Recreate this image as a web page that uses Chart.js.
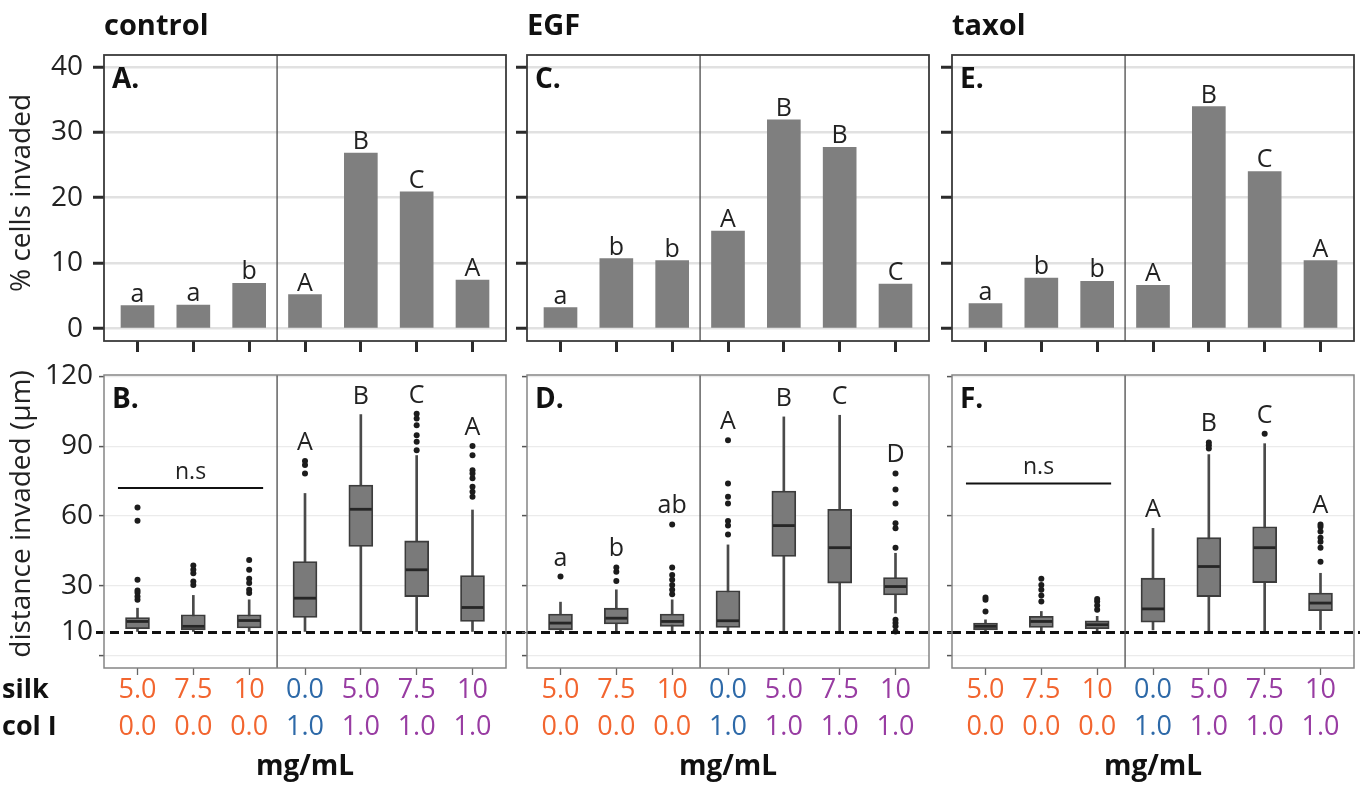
<!DOCTYPE html>
<html>
<head>
<meta charset="utf-8">
<script src="https://cdn.jsdelivr.net/npm/chart.js@4.4.1/dist/chart.umd.min.js"></script>
<style>
  body { margin: 0; background: #fff; }
  #wrap { position: relative; width: 1363px; height: 785px; }
  #wrap canvas { position: absolute; left: 0; top: 0; }
</style>
</head>
<body>
<div id="wrap">
  <canvas id="pctControl" width="1363" height="785"></canvas>
  <canvas id="pctEGF" width="1363" height="785"></canvas>
  <canvas id="pctTaxol" width="1363" height="785"></canvas>
  <canvas id="distControl" width="1363" height="785"></canvas>
  <canvas id="distEGF" width="1363" height="785"></canvas>
  <canvas id="distTaxol" width="1363" height="785"></canvas>
</div>
<script>
// categories (mg/mL)
const silkConc = ['5.0', '7.5', '10', '0.0', '5.0', '7.5', '10'];
const colIConc = ['0.0', '0.0', '0.0', '1.0', '1.0', '1.0', '1.0'];
const conditions = ['control', 'EGF', 'taxol'];

// % cells invaded
const pctTicks = [0, 10, 20, 30, 40];
const pctControl = [3.5, 3.6, 6.9, 5.2, 26.8, 20.9, 7.4];
const pctEGF = [3.2, 10.7, 10.4, 14.9, 31.9, 27.7, 6.8];
const pctTaxol = [3.8, 7.7, 7.2, 6.6, 33.9, 24.0, 10.4];
const pctLettersControl = ['a', 'a', 'b', 'A', 'B', 'C', 'A'];
const pctLettersEGF = ['a', 'b', 'b', 'A', 'B', 'B', 'C'];
const pctLettersTaxol = ['a', 'b', 'b', 'A', 'B', 'C', 'A'];

// distance invaded (um): [whisker low, q1, median, q3, whisker high]
const distTicks = [0, 10, 30, 60, 90, 120];
const distThreshold = 10;
const distControl = [
    [10.4, 11.6, 14.7, 16.4, 20.4],
    [10.4, 11.1, 12.6, 17.6, 25.9],
    [10.4, 11.9, 15.1, 17.6, 24.0],
    [10.4, 16.4, 24.7, 40.4, 69.7],
    [10.4, 46.9, 62.9, 73.3, 103.6],
    [10.4, 25.4, 36.9, 49.3, 86.0],
    [10.4, 14.7, 20.7, 34.4, 62.6],
];
const outControl = [
    [24.0, 25.4, 27.0, 28.0, 32.6, 58.0, 63.7],
    [30.4, 31.9, 35.4, 36.9, 38.7],
    [26.9, 28.3, 31.2, 33.0, 36.9, 41.1],
    [78.3, 81.9, 83.6],
    [],
    [88.3, 91.9, 94.7, 99.0, 101.9, 104.0],
    [68.3, 70.4, 72.6, 76.2, 78.3, 79.7, 86.1, 90.1],
];
const distEGF = [
    [10.6, 11.1, 14.0, 17.9, 23.0],
    [10.6, 13.6, 16.1, 20.4, 28.3],
    [10.6, 12.6, 14.7, 17.9, 24.0],
    [10.6, 12.1, 15.0, 27.9, 47.6],
    [10.4, 42.6, 55.9, 70.7, 102.6],
    [10.4, 31.2, 46.4, 62.9, 103.3],
    [18.3, 26.1, 29.7, 33.6, 44.0],
];
const outEGF = [
    [34.0],
    [32.1, 36.1, 37.9],
    [26.4, 28.3, 30.4, 32.6, 34.7, 37.9, 56.4],
    [52.1, 55.9, 57.9, 65.4, 68.3, 74.0, 92.6],
    [],
    [],
    [10.4, 12.6, 14.0, 15.4, 46.4, 54.7, 56.9, 65.4, 71.4, 78.3],
];
const distTaxol = [
    [10.6, 11.1, 12.6, 14.0, 15.4],
    [10.6, 12.1, 14.7, 16.9, 19.0],
    [10.6, 11.6, 13.3, 15.0, 16.9],
    [11.1, 14.4, 20.1, 33.3, 54.7],
    [10.4, 25.4, 38.3, 50.7, 86.4],
    [10.4, 31.4, 46.4, 55.4, 91.1],
    [11.1, 19.3, 22.6, 26.9, 35.4],
];
const outTaxol = [
    [19.0, 24.0, 25.0],
    [23.3, 25.9, 28.3, 30.4, 33.0],
    [19.7, 21.6, 23.3, 24.4],
    [],
    [89.0, 90.4, 91.6],
    [95.4],
    [40.4, 46.4, 49.0, 50.7, 53.3, 55.4, 56.4],
];
const distLettersControl = ['', '', '', 'A', 'B', 'C', 'A'];
const distLettersEGF = ['a', 'b', 'ab', 'A', 'B', 'C', 'D'];
const distLettersTaxol = ['', '', '', 'A', 'B', 'C', 'A'];
const nsControl = 72;
const nsTaxol = 74;

// ---- layout / style ----
const FONT = '"Open Sans", "Noto Sans", sans-serif';
const INK = '#222';
const W = 1363, H = 785;
const Y_W = 70, X_H = 90;
const COLS = [
    { left: 104, right: 506 },
    { left: 527, right: 929 },
    { left: 952, right: 1354 },
];
const ROW_TOP = { top: 55, bottom: 341 };
const ROW_BOTTOM = { top: 375, bottom: 668 };
const catColors = ['#f2652f', '#f2652f', '#f2652f', '#2d69a8', '#983ca2', '#983ca2', '#983ca2'];

function text(ctx, str, x, y, size, o = {}) {
    ctx.font = `${o.bold ? 'bold ' : ''}${size}px ${FONT}`;
    ctx.fillStyle = o.color || INK;
    ctx.textAlign = o.align || 'left';
    ctx.textBaseline = o.baseline || 'alphabetic';
    ctx.fillText(str, x, y);
}

function line(ctx, x1, y1, x2, y2, color, w) {
    ctx.strokeStyle = color;
    ctx.lineWidth = w;
    ctx.beginPath();
    ctx.moveTo(x1, y1);
    ctx.lineTo(x2, y2);
    ctx.stroke();
}

function makeOptions(area, top, showY) {
    return {
        responsive: false,
        animation: false,
        events: [],
        layout: {
            padding: {
                left: area.left - Y_W,
                top: area.top,
                right: W - area.right,
                bottom: H - area.bottom - X_H,
            },
        },
        plugins: { legend: { display: false }, tooltip: { enabled: false } },
        scales: {
            x: {
                type: 'linear', min: -0.6, max: 6.6, offset: false,
                afterBuildTicks: s => { s.ticks = silkConc.map((_, i) => ({ value: i })); },
                afterFit: s => { s.height = X_H; },
                border: { display: false },
                grid: {
                    offset: false, drawOnChartArea: false, drawTicks: true,
                    tickLength: top ? 11 : 7, tickWidth: top ? 3 : 1.3,
                    tickColor: top ? '#2b2b2b' : '#666',
                },
                ticks: {
                    autoSkip: false, maxRotation: 0, padding: -3,
                    font: { family: FONT, size: 27, lineHeight: 1.37 },
                    color: c => catColors[c.index] || INK,
                    callback: (v, i) => top ? '' : [silkConc[i], colIConc[i]],
                },
            },
            y: {
                min: top ? -1.9 : -5.3,
                max: top ? 41.8 : 120.6,
                afterBuildTicks: s => { s.ticks = (top ? pctTicks : distTicks).map(v => ({ value: v })); },
                afterFit: s => { s.width = Y_W; },
                border: { display: false },
                grid: {
                    color: c => (!top && c.tick && c.tick.value === distThreshold) ? 'rgba(0,0,0,0)' : (top ? '#e1e1e1' : '#ebebeb'),
                    lineWidth: top ? 2.5 : 1.2,
                    drawTicks: true,
                    tickLength: top ? 11 : 5,
                    tickWidth: top ? 3 : 1.5,
                    tickColor: top ? '#2b2b2b' : '#555',
                },
                ticks: {
                    padding: top ? 10 : 6,
                    font: { family: FONT, size: 28 },
                    color: INK,
                    callback: v => !showY ? '' : (!top && v === 0 ? '' : String(v)),
                },
            },
        },
    };
}

function decorPlugin(p) {
    return {
        id: 'decor',
        afterDatasetsDraw(chart) {
            const { ctx, chartArea: a, scales: { x, y } } = chart;
            ctx.save();

            if (p.boxes) {
                // medians
                p.boxes.forEach((b, i) => {
                    const px = x.getPixelForValue(i), py = y.getPixelForValue(b[2]);
                    line(ctx, px - 11, py, px + 11, py, '#262626', 2.8);
                });
                // detection threshold
                const ty = y.getPixelForValue(distThreshold);
                ctx.setLineDash([9, 5]);
                line(ctx, a.left - p.dashL, ty, a.right + p.dashR, ty, '#111', 3);
                ctx.setLineDash([]);
                // significance letters
                p.letters.forEach((l, i) => {
                    if (!l) return;
                    const topVal = Math.max(p.boxes[i][4], ...p.outliers[i]);
                    text(ctx, l, x.getPixelForValue(i), y.getPixelForValue(topVal) - 11, 25, { align: 'center' });
                });
                if (p.ns != null) {
                    const ny = y.getPixelForValue(p.ns);
                    line(ctx, x.getPixelForValue(-0.35), ny, x.getPixelForValue(2.25), ny, '#111', 2);
                    text(ctx, 'n.s', x.getPixelForValue(0.95), ny - 9, 23, { align: 'center' });
                }
            } else {
                p.letters.forEach((l, i) => {
                    text(ctx, l, x.getPixelForValue(i), y.getPixelForValue(p.values[i]) - 4, 25, { align: 'center' });
                });
            }

            // divider between no-collagen and collagen groups
            const xd = x.getPixelForValue(2.5);
            line(ctx, xd, a.top, xd, a.bottom, '#4a4a4a', 1.3);

            // frame
            ctx.strokeStyle = p.boxes ? '#858585' : '#3a3a3a';
            ctx.lineWidth = p.boxes ? 1.5 : 1.8;
            ctx.strokeRect(a.left, a.top, a.right - a.left, a.bottom - a.top);

            // panel letter
            text(ctx, p.panel, a.left + 8, a.top + 33, 28, { bold: true, color: '#111' });

            if (p.title) text(ctx, p.title, a.left, 35, 29, { bold: true, color: '#111' });

            if (p.yTitle) {
                ctx.save();
                ctx.translate(22, p.yTitleY);
                ctx.rotate(-Math.PI / 2);
                text(ctx, p.yTitle, 0, 0, 28, { align: 'center', baseline: 'middle' });
                ctx.restore();
            }

            if (p.boxes) {
                text(ctx, 'mg/mL', (a.left + a.right) / 2, 775, 28, { bold: true, align: 'center', color: '#111' });
                if (p.rowLabels) {
                    text(ctx, 'silk', 2, 690, 27, { bold: true, baseline: 'middle', color: '#111' });
                    text(ctx, 'col I', 2, 727, 27, { bold: true, baseline: 'middle', color: '#111' });
                }
            }
            ctx.restore();
        },
    };
}

function pctChart(id, col, values, letters, panel, extra) {
    const area = { ...COLS[col], ...ROW_TOP };
    new Chart(document.getElementById(id), {
        type: 'bar',
        data: {
            datasets: [{
                data: values.map((v, i) => ({ x: i, y: v })),
                backgroundColor: '#7f7f7f',
                barThickness: 33,
            }],
        },
        options: makeOptions(area, true, col === 0),
        plugins: [decorPlugin({ values, letters, panel, title: conditions[col], ...extra })],
    });
}

function distChart(id, col, boxes, outliers, letters, panel, extra) {
    const area = { ...COLS[col], ...ROW_BOTTOM };
    new Chart(document.getElementById(id), {
        type: 'bar',
        data: {
            datasets: [
                {
                    type: 'scatter',
                    data: outliers.flatMap((arr, i) => arr.map(v => ({ x: i, y: v }))),
                    pointRadius: 3,
                    pointBackgroundColor: '#1c1c1c',
                    pointBorderWidth: 0,
                    order: 1,
                },
                {
                    data: boxes.map((b, i) => ({ x: i, y: [b[1], b[3]] })),
                    backgroundColor: '#7a7a7a',
                    borderColor: '#3c3c3c',
                    borderWidth: 1.8,
                    borderSkipped: false,
                    barThickness: 24,
                    grouped: false,
                    order: 2,
                },
                {
                    data: boxes.map((b, i) => ({ x: i, y: [b[0], b[4]] })),
                    backgroundColor: '#4a4a4a',
                    barThickness: 2,
                    grouped: false,
                    order: 3,
                },
            ],
        },
        options: makeOptions(area, false, col === 0),
        plugins: [decorPlugin({ boxes, outliers, letters, panel, ...extra })],
    });
}

pctChart('pctControl', 0, pctControl, pctLettersControl, 'A.', { yTitle: '% cells invaded', yTitleY: 193 });
pctChart('pctEGF', 1, pctEGF, pctLettersEGF, 'C.', {});
pctChart('pctTaxol', 2, pctTaxol, pctLettersTaxol, 'E.', {});

distChart('distControl', 0, distControl, outControl, distLettersControl, 'B.',
    { ns: nsControl, dashL: 8, dashR: 23, rowLabels: true, yTitle: 'distance invaded (µm)', yTitleY: 514 });
distChart('distEGF', 1, distEGF, outEGF, distLettersEGF, 'D.', { ns: null, dashL: 0, dashR: 23 });
distChart('distTaxol', 2, distTaxol, outTaxol, distLettersTaxol, 'F.', { ns: nsTaxol, dashL: 0, dashR: 6 });
</script>
</body>
</html>
